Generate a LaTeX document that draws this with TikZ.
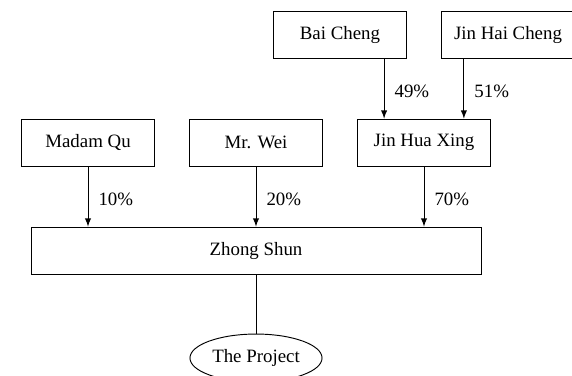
\documentclass[tikz,border=0pt]{standalone}
\usepackage{fontspec}
\setmainfont{Liberation Serif}
\usetikzlibrary{arrows,shapes,calc}
\tikzset{
    block/.style = {draw, rectangle, 
        minimum height=24.9pt, 
        minimum width=70pt, inner sep=0pt},
    wideblock/.style = {block, minimum width=238.5pt, minimum height=25.4pt},
    target/.style = {draw, ellipse, inner sep=0pt,
        minimum height=25.4pt,
        minimum width=70pt},
    arrow/.style={draw, -latex},
    share/.style = {right, xshift=2pt, yshift=-1.5pt}
}
\begin{document}
\begin{tikzpicture}[x=0.53pt,y=-0.53pt,line width=0.5pt]
            \useasboundingbox (0,0) rectangle (572,375);
            % owners
            \node[block] (bai) at (340,34.5) {Bai Cheng};
            \node[block] (jhc) at (508,34.5) {Jin Hai Cheng};
            \node[block] (qu) at (88,142.5) {Madam Qu};
            \node[block] (wei) at (256,142.5) {Mr. Wei};
            \node[block] (jhx) at (424,142.5) {Jin Hua Xing};
            \node[wideblock] (zs) at (256,251) {Zhong Shun};
            \node[target] (proj) at (256,358) {The Project};
            % holdings in Jin Hua Xing
            \coordinate (in1) at ($(jhx.north west)!.2!(jhx.north east)$);
            \coordinate (in2) at ($(jhx.north west)!.8!(jhx.north east)$);
            \draw[arrow] (bai.south -| in1) -- node[share] {49\%} (in1);
            \draw[arrow] (jhc.south -| in2) -- node[share] {51\%} (in2);
            % holdings in Zhong Shun
            \draw[arrow] (qu.south) -- node[share] {10\%} (qu.south |- zs.north);
            \draw[arrow] (wei.south) -- node[share] {20\%} (wei.south |- zs.north);
            \draw[arrow] (jhx.south) -- node[share] {70\%} (jhx.south |- zs.north);
            \draw (zs.south) -- (proj.north);
\end{tikzpicture}
\end{document}
